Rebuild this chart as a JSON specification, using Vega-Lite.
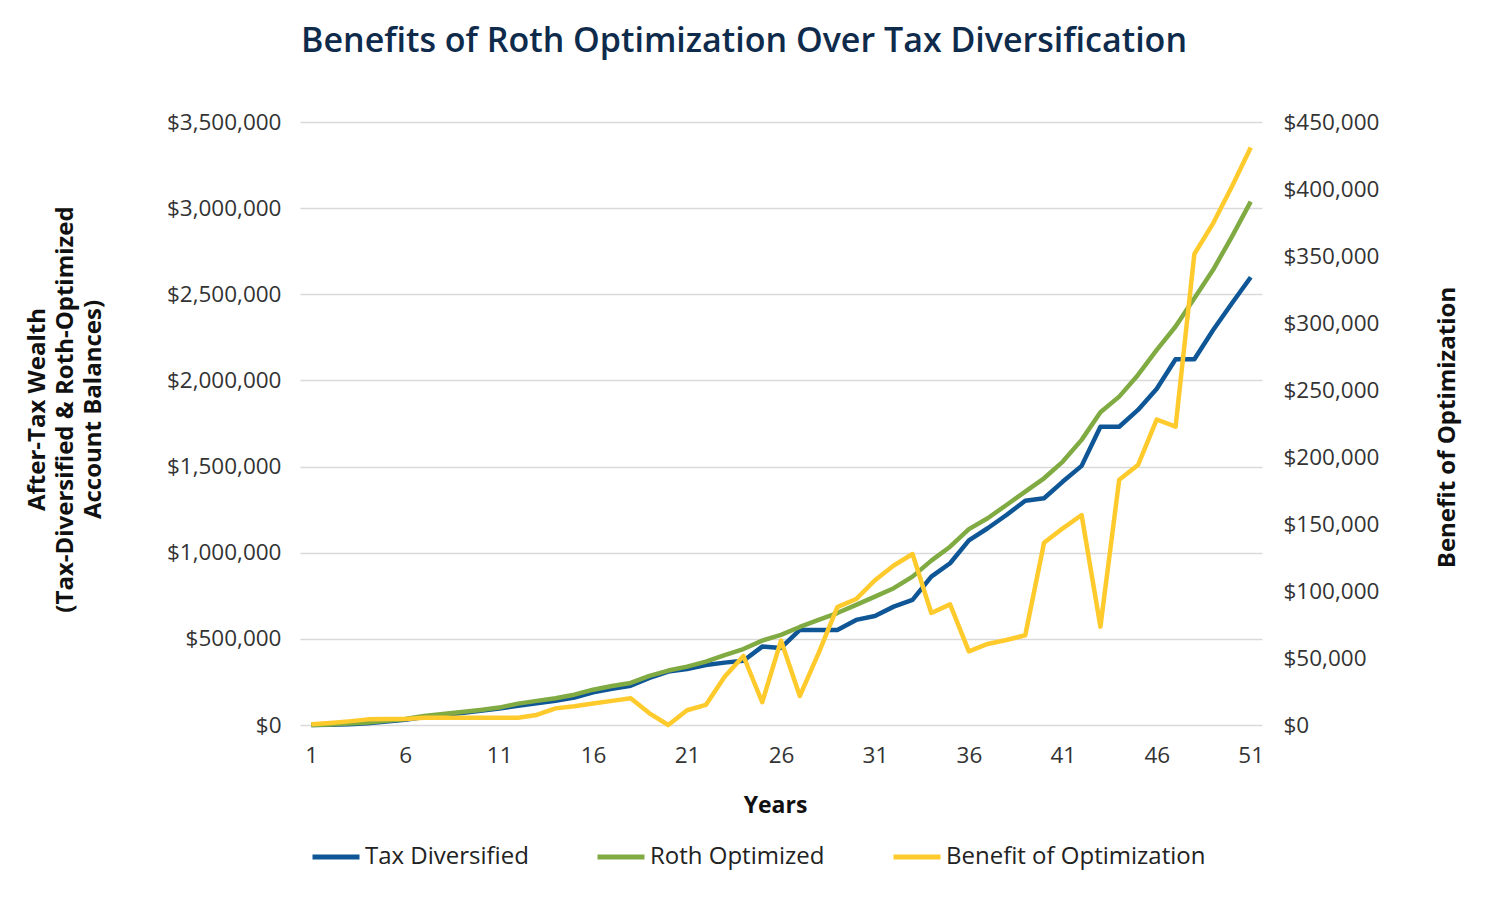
{
  "$schema": "https://vega.github.io/schema/vega-lite/v6.json",
  "autosize": {"type": "none"},
  "padding": {"left": 300, "top": 122, "right": 227, "bottom": 181},
  "width": 962,
  "height": 603,
  "background": "white",
  "config": {
    "font": "Open Sans",
    "view": {"stroke": null},
    "axis": {"labelFont": "Open Sans", "titleFont": "Open Sans"},
    "legend": {"labelFont": "Open Sans"}
  },
  "title": {
    "text": "Benefits of Roth Optimization Over Tax Diversification",
    "fontSize": 34,
    "fontWeight": 600,
    "color": "#0F2B4C",
    "anchor": "middle",
    "offset": 52,
    "dx": -37
  },
  "data": {
    "values": [
      {"year": 1, "Tax Diversified": 0, "Roth Optimized": 0, "Benefit of Optimization": 500},
      {"year": 2, "Tax Diversified": 2000, "Roth Optimized": 3000, "Benefit of Optimization": 1500},
      {"year": 3, "Tax Diversified": 5000, "Roth Optimized": 8000, "Benefit of Optimization": 2700},
      {"year": 4, "Tax Diversified": 10000, "Roth Optimized": 14000, "Benefit of Optimization": 4200},
      {"year": 5, "Tax Diversified": 20000, "Roth Optimized": 25000, "Benefit of Optimization": 4400},
      {"year": 6, "Tax Diversified": 30000, "Roth Optimized": 35000, "Benefit of Optimization": 4500},
      {"year": 7, "Tax Diversified": 47000, "Roth Optimized": 52000, "Benefit of Optimization": 5400},
      {"year": 8, "Tax Diversified": 59000, "Roth Optimized": 64000, "Benefit of Optimization": 5400},
      {"year": 9, "Tax Diversified": 70000, "Roth Optimized": 75000, "Benefit of Optimization": 5400},
      {"year": 10, "Tax Diversified": 82000, "Roth Optimized": 87000, "Benefit of Optimization": 5400},
      {"year": 11, "Tax Diversified": 96000, "Roth Optimized": 101000, "Benefit of Optimization": 5400},
      {"year": 12, "Tax Diversified": 112000, "Roth Optimized": 124000, "Benefit of Optimization": 5400},
      {"year": 13, "Tax Diversified": 126000, "Roth Optimized": 140000, "Benefit of Optimization": 7500},
      {"year": 14, "Tax Diversified": 141000, "Roth Optimized": 155000, "Benefit of Optimization": 12400},
      {"year": 15, "Tax Diversified": 159000, "Roth Optimized": 176000, "Benefit of Optimization": 14000},
      {"year": 16, "Tax Diversified": 190000, "Roth Optimized": 205000, "Benefit of Optimization": 16000},
      {"year": 17, "Tax Diversified": 210000, "Roth Optimized": 226000, "Benefit of Optimization": 18000},
      {"year": 18, "Tax Diversified": 228000, "Roth Optimized": 244000, "Benefit of Optimization": 20000},
      {"year": 19, "Tax Diversified": 273000, "Roth Optimized": 285000, "Benefit of Optimization": 8700},
      {"year": 20, "Tax Diversified": 310000, "Roth Optimized": 316000, "Benefit of Optimization": 0},
      {"year": 21, "Tax Diversified": 325000, "Roth Optimized": 339000, "Benefit of Optimization": 11000},
      {"year": 22, "Tax Diversified": 348000, "Roth Optimized": 368000, "Benefit of Optimization": 15000},
      {"year": 23, "Tax Diversified": 362000, "Roth Optimized": 406000, "Benefit of Optimization": 36000},
      {"year": 24, "Tax Diversified": 373000, "Roth Optimized": 441000, "Benefit of Optimization": 51500},
      {"year": 25, "Tax Diversified": 455000, "Roth Optimized": 490000, "Benefit of Optimization": 17000},
      {"year": 26, "Tax Diversified": 447000, "Roth Optimized": 523000, "Benefit of Optimization": 63000},
      {"year": 27, "Tax Diversified": 552000, "Roth Optimized": 569000, "Benefit of Optimization": 21600},
      {"year": 28, "Tax Diversified": 552000, "Roth Optimized": 610000, "Benefit of Optimization": 53700},
      {"year": 29, "Tax Diversified": 552000, "Roth Optimized": 650000, "Benefit of Optimization": 88000},
      {"year": 30, "Tax Diversified": 610000, "Roth Optimized": 697000, "Benefit of Optimization": 94000},
      {"year": 31, "Tax Diversified": 633000, "Roth Optimized": 745000, "Benefit of Optimization": 108000},
      {"year": 32, "Tax Diversified": 687000, "Roth Optimized": 794000, "Benefit of Optimization": 119000},
      {"year": 33, "Tax Diversified": 726000, "Roth Optimized": 861000, "Benefit of Optimization": 127600},
      {"year": 34, "Tax Diversified": 861000, "Roth Optimized": 954000, "Benefit of Optimization": 83600},
      {"year": 35, "Tax Diversified": 939000, "Roth Optimized": 1035000, "Benefit of Optimization": 90000},
      {"year": 36, "Tax Diversified": 1072000, "Roth Optimized": 1137000, "Benefit of Optimization": 55000},
      {"year": 37, "Tax Diversified": 1142000, "Roth Optimized": 1200000, "Benefit of Optimization": 60500},
      {"year": 38, "Tax Diversified": 1219000, "Roth Optimized": 1277000, "Benefit of Optimization": 63400},
      {"year": 39, "Tax Diversified": 1302000, "Roth Optimized": 1355000, "Benefit of Optimization": 67000},
      {"year": 40, "Tax Diversified": 1316000, "Roth Optimized": 1432000, "Benefit of Optimization": 136000},
      {"year": 41, "Tax Diversified": 1413000, "Roth Optimized": 1529000, "Benefit of Optimization": 146800},
      {"year": 42, "Tax Diversified": 1504000, "Roth Optimized": 1655000, "Benefit of Optimization": 156700},
      {"year": 43, "Tax Diversified": 1731000, "Roth Optimized": 1815000, "Benefit of Optimization": 73400},
      {"year": 44, "Tax Diversified": 1731000, "Roth Optimized": 1906000, "Benefit of Optimization": 183000},
      {"year": 45, "Tax Diversified": 1829000, "Roth Optimized": 2032000, "Benefit of Optimization": 194000},
      {"year": 46, "Tax Diversified": 1952000, "Roth Optimized": 2177000, "Benefit of Optimization": 228000},
      {"year": 47, "Tax Diversified": 2123000, "Roth Optimized": 2313000, "Benefit of Optimization": 222600},
      {"year": 48, "Tax Diversified": 2123000, "Roth Optimized": 2477000, "Benefit of Optimization": 351500},
      {"year": 49, "Tax Diversified": 2293000, "Roth Optimized": 2642000, "Benefit of Optimization": 374400},
      {"year": 50, "Tax Diversified": 2448000, "Roth Optimized": 2835000, "Benefit of Optimization": 401800},
      {"year": 51, "Tax Diversified": 2599000, "Roth Optimized": 3038000, "Benefit of Optimization": 431000}
    ]
  },
  "layer": [
    {
      "transform": [{"fold": ["Tax Diversified", "Roth Optimized"], "as": ["series", "value"]}],
      "mark": {"type": "line", "strokeWidth": 4.5, "strokeJoin": "round"},
      "encoding": {
        "x": {
          "field": "year", "type": "quantitative",
          "scale": {"domain": [0.4, 51.6], "nice": false, "zero": false},
          "axis": {
            "values": [1, 6, 11, 16, 21, 26, 31, 36, 41, 46, 51],
            "grid": false, "domain": false, "ticks": false, "tickSize": 0,
            "labelFontSize": 22.5, "labelColor": "#333333", "labelPadding": 19,
            "title": "Years", "titleFontSize": 23, "titleFontWeight": "bold", "titleColor": "#111111",
            "titleX": 475, "titleY": 80, "titleBaseline": "middle", "titleAlign": "center"
          }
        },
        "y": {
          "field": "value", "type": "quantitative",
          "scale": {"domain": [0, 3500000], "nice": false},
          "axis": {
            "orient": "left",
            "values": [0, 500000, 1000000, 1500000, 2000000, 2500000, 3000000, 3500000],
            "format": "$,.0f",
            "grid": true, "gridColor": "#d9d9d9", "gridWidth": 1.5,
            "domain": false, "ticks": false, "tickSize": 0,
            "labelFontSize": 22.5, "labelColor": "#333333", "labelPadding": 19,
            "title": ["After-Tax Wealth", "(Tax-Diversified & Roth-Optimized", "Account Balances)"],
            "titleFontSize": 24, "titleFontWeight": "bold", "titleColor": "#111111",
            "titleAngle": -90, "titleX": -263, "titleY": 287, "titleAlign": "center",
            "titleBaseline": "middle", "titleLineHeight": 28
          }
        },
        "color": {
          "field": "series", "type": "nominal",
          "scale": {
            "domain": ["Tax Diversified", "Roth Optimized", "Benefit of Optimization"],
            "range": ["#0E5696", "#80AA42", "#FFCA2C"]
          },
          "legend": {
            "orient": "none", "legendX": 10, "legendY": 709, "direction": "horizontal",
            "title": null, "symbolType": "stroke", "symbolSize": 2209, "symbolStrokeWidth": 5,
            "labelFontSize": 24, "labelColor": "#222222", "labelOffset": 3,
            "columnPadding": 58, "labelLimit": 400
          }
        }
      }
    },
    {
      "transform": [{"fold": ["Benefit of Optimization"], "as": ["series", "value"]}],
      "mark": {"type": "line", "strokeWidth": 4.5, "strokeJoin": "round"},
      "encoding": {
        "x": {"field": "year", "type": "quantitative"},
        "y": {
          "field": "value", "type": "quantitative",
          "scale": {"domain": [0, 450000], "nice": false},
          "axis": {
            "orient": "right",
            "values": [0, 50000, 100000, 150000, 200000, 250000, 300000, 350000, 400000, 450000],
            "format": "$,.0f",
            "grid": false, "domain": false, "ticks": false, "tickSize": 0,
            "labelFontSize": 22.5, "labelColor": "#333333", "labelPadding": 21,
            "title": "Benefit of Optimization",
            "titleFontSize": 24, "titleFontWeight": "bold", "titleColor": "#111111",
            "titleAngle": -90, "titleX": 185, "titleY": 305, "titleAlign": "center",
            "titleBaseline": "middle"
          }
        },
        "color": {"field": "series", "type": "nominal"}
      }
    }
  ],
  "resolve": {"scale": {"y": "independent"}}
}
